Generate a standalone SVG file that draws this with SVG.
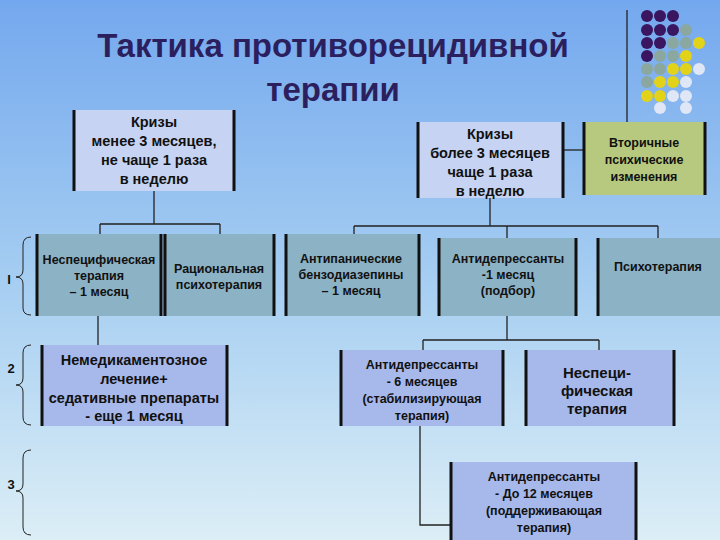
<svg xmlns="http://www.w3.org/2000/svg" width="720" height="540" viewBox="0 0 720 540">
<defs>
<linearGradient id="bg" x1="0" y1="0" x2="0" y2="1"><stop offset="0" stop-color="#74a8ee"/><stop offset="0.55" stop-color="#a9d0f2"/><stop offset="1" stop-color="#dceef6"/></linearGradient>
<style>
text{font-family:"Liberation Sans",Arial,sans-serif;font-weight:bold;fill:#111;text-anchor:middle}
.t{font-size:14.5px}.s{font-size:12.5px}
.la{fill:#c6d3f2}.tl{fill:#8cb2c6}.lb{fill:#a7b8ea}.gr{fill:#b7c97e}
.side{stroke:#111;stroke-width:3}
.c{stroke:#222;stroke-width:1.3;fill:none}
.p{fill:#3a1560}.g{fill:#8aa8a0}.y{fill:#e2d21a}.w{fill:#dfe6f6}
</style>
</defs>
<rect width="720" height="540" fill="url(#bg)"/>
<g id="dots">
<circle class="p" cx="647" cy="16" r="6"/><circle class="p" cx="660" cy="16" r="6"/><circle class="p" cx="673" cy="16" r="6"/>
<circle class="p" cx="647" cy="30" r="6"/><circle class="p" cx="660" cy="30" r="6"/><circle class="p" cx="673" cy="30" r="6"/><circle class="g" cx="686" cy="30" r="6"/>
<circle class="p" cx="647" cy="43" r="6"/><circle class="p" cx="660" cy="43" r="6"/><circle class="g" cx="673" cy="43" r="6"/><circle class="g" cx="686" cy="43" r="6"/><circle class="y" cx="699" cy="43" r="6"/>
<circle class="p" cx="647" cy="56" r="6"/><circle class="g" cx="660" cy="56" r="6"/><circle class="g" cx="673" cy="56" r="6"/><circle class="y" cx="686" cy="56" r="6"/>
<circle class="g" cx="647" cy="69" r="6"/><circle class="g" cx="660" cy="69" r="6"/><circle class="y" cx="673" cy="69" r="6"/><circle class="y" cx="686" cy="69" r="6"/><circle class="w" cx="699" cy="69" r="6"/>
<circle class="g" cx="647" cy="82" r="6"/><circle class="y" cx="660" cy="82" r="6"/><circle class="y" cx="673" cy="82" r="6"/><circle class="w" cx="686" cy="82" r="6"/>
<circle class="y" cx="647" cy="96" r="6"/><circle class="y" cx="660" cy="96" r="6"/><circle class="w" cx="673" cy="96" r="6"/><circle class="w" cx="686" cy="96" r="6"/>
<circle class="w" cx="660" cy="108" r="6"/><circle class="w" cx="686" cy="108" r="6"/>
</g>
<g id="title">
<text x="333" y="57" style="font-size:33px;fill:#2b1f5e">Тактика противорецидивной</text>
<text x="333" y="101" style="font-size:33px;fill:#2b1f5e">терапии</text>
</g>
<g id="connectors">
<path class="c" d="M627 10V122"/>
<path class="c" d="M154 191V224M100 224H220M100 224V234M220 224V234"/>
<path class="c" d="M564 150H583"/>
<path class="c" d="M490 198V226M354 226H658M354 226V234M507 226V238M658 226V238"/>
<path class="c" d="M98 316V345"/>
<path class="c" d="M507 316V340M423 340H599M423 340V350M599 340V350"/>
<path class="c" d="M420 426V525H450"/>
</g>
<g id="brackets" fill="none" stroke="#222" stroke-width="1">
<path d="M31 237Q23 237 23 245V270Q23 277 16 277Q23 277 23 284V308Q23 315 31 315"/>
<path d="M31 345Q23 345 23 353V378Q23 385 16 385Q23 385 23 392V417Q23 425 31 425"/>
<path d="M31 450Q23 450 23 458V484Q23 491 16 491Q23 491 23 498V527Q23 535 31 535"/>
</g>
<g id="labels">
<text x="9" y="284" style="font-size:13px">I</text>
<text x="11" y="373" style="font-size:13px">2</text>
<text x="11" y="489" style="font-size:13px">3</text>
</g>
<g id="n1"><rect class="la" x="73" y="110" width="162" height="81"/><path class="side" d="M74 110V191M234 110V191"/>
<text class="t" x="154" y="127">Кризы</text><text class="t" x="154" y="146">менее 3 месяцев,</text><text class="t" x="154" y="165">не чаще 1 раза</text><text class="t" x="154" y="184">в неделю</text></g>
<g id="n2"><rect class="la" x="417" y="122" width="147" height="76"/><path class="side" d="M418 122V198M563 122V198"/>
<text class="t" x="490" y="139">Кризы</text><text class="t" x="490" y="158">более 3 месяцев</text><text class="t" x="490" y="177">чаще 1 раза</text><text class="t" x="490" y="196">в неделю</text></g>
<g id="n3"><rect class="gr" x="583" y="122" width="123" height="73"/><path class="side" d="M584 122V195M705 122V195"/>
<text class="s" x="644" y="147">Вторичные</text><text class="s" x="644" y="164">психические</text><text class="s" x="644" y="181">изменения</text></g>
<g id="n4"><rect class="tl" x="36" y="234" width="126" height="82"/><path class="side" d="M37 234V316M161 234V316"/>
<text class="s" x="99" y="264">Неспецифическая</text><text class="s" x="99" y="280">терапия</text><text class="s" x="99" y="296">– 1 месяц</text></g>
<g id="n5"><rect class="tl" x="163" y="234" width="112" height="82"/><path class="side" d="M165 234V316M274 234V316"/>
<text class="s" x="219" y="273">Рациональная</text><text class="s" x="219" y="289">психотерапия</text></g>
<g id="n6"><rect class="tl" x="285" y="234" width="135" height="82"/><path class="side" d="M286 234V316M419 234V316"/>
<text class="s" x="351" y="263">Антипанические</text><text class="s" x="351" y="279">бензодиазепины</text><text class="s" x="351" y="295">– 1 месяц</text></g>
<g id="n7"><rect class="tl" x="438" y="238" width="139" height="78"/><path class="side" d="M439 238V316M576 238V316"/>
<text class="s" x="508" y="263">Антидепрессанты</text><text class="s" x="508" y="279">-1 месяц</text><text class="s" x="508" y="295">(подбор)</text></g>
<g id="n8"><rect class="tl" x="597" y="238" width="123" height="78"/><path class="side" d="M598 238V316"/>
<text class="s" x="658" y="271">Психотерапия</text></g>
<g id="n9"><rect class="lb" x="41" y="345" width="187" height="81"/><path class="side" d="M42 345V426M227 345V426"/>
<text class="t" x="134" y="365">Немедикаментозное</text><text class="t" x="134" y="384">лечение+</text><text class="t" x="134" y="403">седативные препараты</text><text class="t" x="134" y="421">- еще 1 месяц</text></g>
<g id="n10"><rect class="lb" x="340" y="350" width="164" height="76"/><path class="side" d="M341 350V426M503 350V426"/>
<text class="s" x="422" y="369">Антидепрессанты</text><text class="s" x="422" y="386">- 6 месяцев</text><text class="s" x="422" y="403">(стабилизирующая</text><text class="s" x="422" y="420">терапия)</text></g>
<g id="n11"><rect class="lb" x="525" y="350" width="150" height="76"/><path class="side" d="M526 350V426M674 350V426"/>
<text x="597" y="378" style="font-size:15px">Неспеци-</text><text x="597" y="396" style="font-size:15px">фическая</text><text x="597" y="414" style="font-size:15px">терапия</text></g>
<g id="n12"><rect class="lb" x="450" y="462" width="187" height="78"/><path class="side" d="M451 462V540M636 462V540"/>
<text class="s" x="544" y="481">Антидепрессанты</text><text class="s" x="544" y="498">- До 12 месяцев</text><text class="s" x="544" y="515">(поддерживающая</text><text class="s" x="544" y="532">терапия)</text></g>
</svg>
